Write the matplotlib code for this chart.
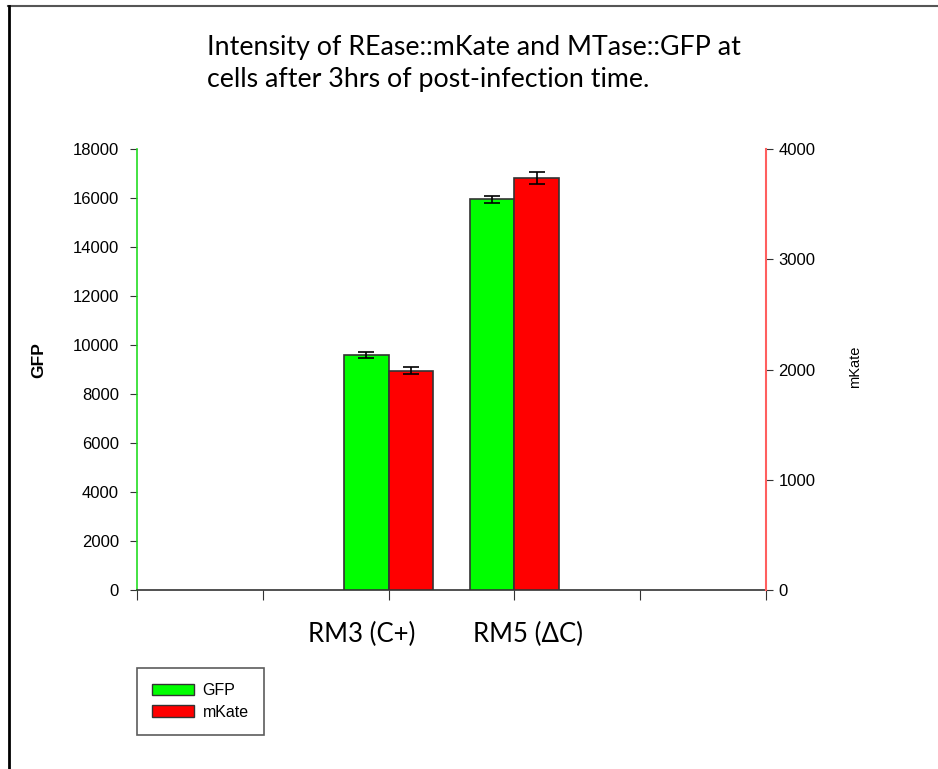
import matplotlib
matplotlib.use("Agg")
import matplotlib.pyplot as plt
from matplotlib.lines import Line2D
from matplotlib.patches import Patch
import matplotlib.transforms as mtransforms

# ---- data ----
categories = ["RM3 (C+)", "RM5 (ΔC)"]
gfp_values = [9580, 15950]
gfp_errors = [120, 150]
mkate_values = [1990, 3740]
mkate_errors = [32, 55]
gfp_ticks = [0, 2000, 4000, 6000, 8000, 10000, 12000, 14000, 16000, 18000]
mkate_ticks = [0, 1000, 2000, 3000, 4000]
title = "Intensity of REase::mKate and MTase::GFP at\ncells after 3hrs of post-infection time."

W, H = 938, 769
fig = plt.figure(figsize=(W / 100, H / 100), dpi=100)
fig.patch.set_facecolor("white")

# partial frame (top and left) of the screenshot
fig.add_artist(Line2D([8 / W, 1], [1 - 6 / H, 1 - 6 / H], transform=fig.transFigure, color="#555555", lw=1.5))
fig.add_artist(Line2D([9 / W, 9 / W], [0, 1 - 6 / H], transform=fig.transFigure, color="black", lw=2))

left, right, bottom, top = 137 / W, 766 / W, 1 - 590 / H, 1 - 149 / H
ax = fig.add_axes([left, bottom, right - left, top - bottom])
ax2 = ax.twinx()

group_pos = [2, 3]
label_pos = [1.79, 3.11]
bw = 0.355

ax.bar([p - bw / 2 for p in group_pos], gfp_values, width=bw, color="#00ff00",
       edgecolor="#333333", linewidth=1.2, yerr=gfp_errors,
       error_kw=dict(ecolor="black", elinewidth=1.2, capsize=6, capthick=1.2), zorder=3)
ax2.bar([p + bw / 2 for p in group_pos], mkate_values, width=bw, color="#ff0000",
        edgecolor="#333333", linewidth=1.2, yerr=mkate_errors,
        error_kw=dict(ecolor="black", elinewidth=1.2, capsize=6, capthick=1.2), zorder=3)

ax.set_xlim(0, 5)
ax.set_ylim(0, 18000)
ax2.set_ylim(0, 4000)
ax.set_xticks([0, 1, 2, 3, 4, 5])
ax.set_xticklabels([])
ax.set_yticks(gfp_ticks)
ax.set_yticklabels([str(t) for t in gfp_ticks], fontsize=12, family="Liberation Sans")
ax2.set_yticks(mkate_ticks)
ax2.set_yticklabels([str(t) for t in mkate_ticks], fontsize=12, family="Liberation Sans")

for a in (ax, ax2):
    a.spines["top"].set_visible(False)
    a.patch.set_visible(False)
ax2.spines["left"].set_visible(False)
ax2.spines["bottom"].set_visible(False)
ax.spines["right"].set_visible(False)
ax.spines["left"].set_color("#22dd22")
ax.spines["left"].set_linewidth(1.2)
ax2.spines["right"].set_color("#ff5f5f")
ax2.spines["right"].set_linewidth(1.5)
ax.spines["bottom"].set_color("#333333")
ax.spines["bottom"].set_linewidth(1.2)
ax.tick_params(axis="y", direction="out", length=5, color="#333333", pad=8)
ax.tick_params(axis="x", direction="out", length=7, color="#333333")
ax2.tick_params(axis="y", direction="out", length=5, color="#333333", pad=4)

ax.set_ylabel("GFP", fontsize=12.5, fontweight="bold", family="Liberation Sans")
ax.yaxis.set_label_coords((46 - 137) / (766 - 137), (590 - 360) / 441)
ax2.set_ylabel("mKate", fontsize=10.5, family="Liberation Sans")
ax2.yaxis.set_label_coords((848 - 137) / (766 - 137), (590 - 367) / 441)

trans = mtransforms.blended_transform_factory(ax.transData, fig.transFigure)
for x, lab in zip(label_pos, categories):
    ax.text(x, 1 - 634 / H, lab, transform=trans, ha="center", va="center",
            fontsize=18.5, family="Lato")

fig.text(207 / W, 1 - 64 / H, title, ha="left", va="center", fontsize=19.3,
         family="Lato", linespacing=1.35)

handles = [Patch(facecolor="#00ff00", edgecolor="#333333", label="GFP"),
           Patch(facecolor="#ff0000", edgecolor="#333333", label="mKate")]
leg = fig.legend(handles=handles, loc="upper left",
                 bbox_to_anchor=(137 / W, 1 - 668 / H), frameon=True, fancybox=False,
                 prop={"family": "Liberation Sans", "size": 11.5}, handlelength=2.6,
                 handleheight=0.75, handletextpad=0.55, borderpad=0.95, labelspacing=0.4,
                 borderaxespad=0)
leg.get_frame().set_edgecolor("#333333")
leg.get_frame().set_linewidth(1.2)

fig.savefig("out.png", dpi=100, facecolor="white")
